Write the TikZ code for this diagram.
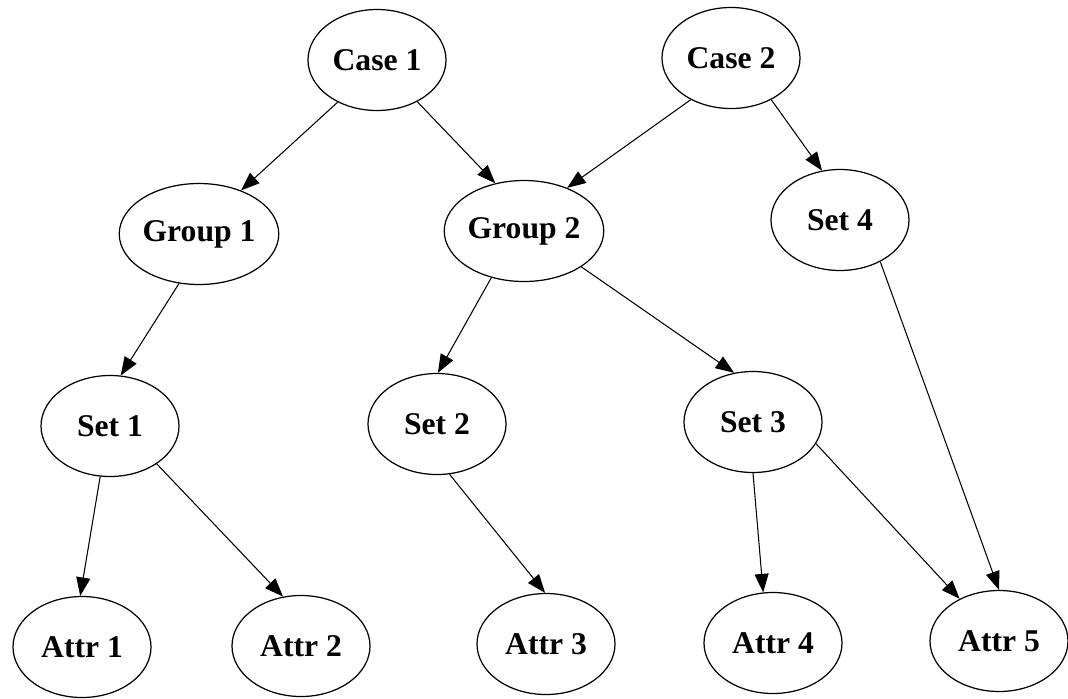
\documentclass[tikz,border=0pt]{standalone}
\usepackage{fontspec}
\setmainfont{Liberation Serif}
\usetikzlibrary{shapes.geometric,arrows.meta}

\begin{document}
\begin{tikzpicture}
	\tikzstyle{Node} = [ellipse, minimum width=2.76cm, minimum height=2.02cm, inner sep=0pt, text centered, draw=black, line width=0.7pt, font=\fontsize{18}{20}\selectfont\bfseries]
	\tikzstyle{arrow} = [line width=0.6pt,-{Triangle[length=3.7mm,width=2.8mm]}]
	
	\useasboundingbox (0,0) rectangle (21.36,-13.96);
	
	\node (case1) [Node] at (7.54,-1.20) {Case 1};
	\node (case2) [Node] at (14.62,-1.16) {Case 2};
	\node (group1) [Node] at (3.98,-4.68) {Group 1};
	\node (group2) [Node] at (10.48,-4.62) {Group 2};
	\node (set4) [Node] at (16.80,-4.40) {Set 4};
	\node (set1) [Node] at (2.20,-8.52) {Set 1};
	\node (set2) [Node] at (8.74,-8.48) {Set 2};
	\node (set3) [Node] at (15.06,-8.44) {Set 3};
	\node (attr1) [Node] at (1.64,-12.94) {Attr 1};
	\node (attr2) [Node] at (6.02,-12.92) {Attr 2};
	\node (attr3) [Node] at (10.92,-12.88) {Attr 3};
	\node (attr4) [Node] at (15.46,-12.86) {Attr 4};
	\node (attr5) [Node] at (19.98,-12.82) {Attr 5};
	
	\draw [arrow] (case1.227) -- (group1.46);
	\draw [arrow] (case1.-46) -- (group2.121);
	\draw [arrow] (case2.226) -- (group2.45);
	\draw [arrow] (case2.-46) -- (set4.110);
	\draw [arrow] (group1.248) -- (set1.78);
	\draw [arrow] (group2.235) -- (set2.89);
	\draw [arrow] (group2.-32) -- (set3.111);
	\draw [arrow] (set1.259) -- (attr1.92);
	\draw [arrow] (set1.-39) -- (attr2.110);
	\draw [arrow] (set2.-76) -- (attr3.91);
	\draw [arrow] (set3.270) -- (attr4.101);
	\draw [arrow] (set3.-19) -- (attr5.133);
	\draw [arrow] (set4.-46) -- (attr5.90);
\end{tikzpicture}
\end{document}
